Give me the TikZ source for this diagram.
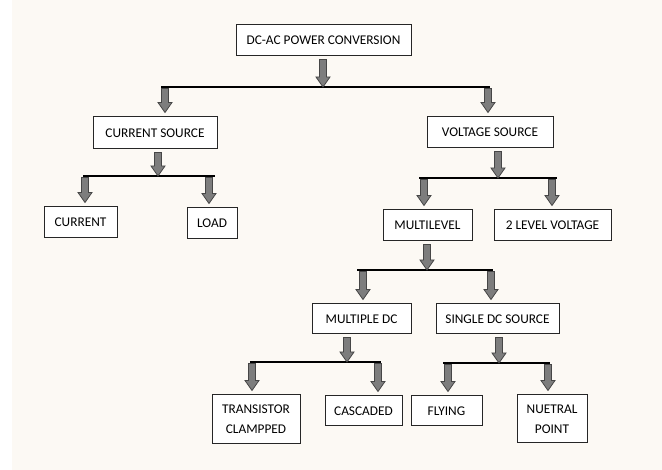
\documentclass[tikz,border=0pt]{standalone}
\usepackage{fontspec}
\setmainfont{Carlito}
\usetikzlibrary{calc}

\definecolor{paper}{RGB}{252,249,244}
\definecolor{arrowfill}{RGB}{125,125,125}
\definecolor{arrowline}{RGB}{70,70,70}

\tikzset{every picture/.style={line width=0.75pt}}
\tikzset{
  box/.style={draw=black!85, fill=white, line width=0.75pt, inner sep=0pt,
    align=center, font=\fontsize{10}{15}\selectfont},
  bar/.style={draw=black, line width=1.5pt},
  % block arrow: #1 gap after the start, #2 gap before the target
  blockarrow/.style 2 args={draw=arrowline, fill=arrowfill, line width=0.6pt,
    to path={($(\tikztostart)+(-3.5,#1)$) -- ($(\tikztotarget)+(-3.5,-10-#2)$)
      -- ($(\tikztotarget)+(-7,-10-#2)$) -- ($(\tikztotarget)+(0,-#2)$)
      -- ($(\tikztotarget)+(7,-10-#2)$) -- ($(\tikztotarget)+(3.5,-10-#2)$)
      -- ($(\tikztostart)+(3.5,#1)$) -- cycle}}
}

\begin{document}
\begin{tikzpicture}[x=0.75pt,y=0.75pt,yscale=-1,xscale=1]
\useasboundingbox (0,0) rectangle (662,470);
\fill[paper] (12,0) rectangle (662,470);

%Shape: Rectangle (boxes)
\node[box, minimum width=131.25pt, minimum height=23.25pt] (conv) at (323.5,40.5) {DC-AC POWER CONVERSION};
\node[box, minimum width=93pt, minimum height=24pt] (csrc) at (155,133) {CURRENT SOURCE};
\node[box, minimum width=94.5pt, minimum height=23.25pt] (vsrc) at (490,132.5) {VOLTAGE SOURCE};
\node[box, minimum width=54.75pt, minimum height=23.25pt] (curr) at (80.5,222.5) {CURRENT};
\node[box, minimum width=37.5pt, minimum height=23.25pt] (load) at (212,223.5) {LOAD};
\node[box, minimum width=66.75pt, minimum height=23.25pt] (mlvl) at (427.5,225.5) {MULTILEVEL};
\node[box, minimum width=87.75pt, minimum height=23.25pt] (twolvl) at (552.5,225.5) {2 LEVEL VOLTAGE};
\node[box, minimum width=74.25pt, minimum height=22.5pt] (mdc) at (361.5,319) {MULTIPLE DC};
\node[box, minimum width=92.25pt, minimum height=22.5pt] (sdc) at (497.5,319) {SINGLE DC SOURCE};
\node[box, minimum width=66pt, minimum height=36.75pt] (tclamp) at (256,419.5) {TRANSISTOR\\CLAMPPED};
\node[box, minimum width=57.75pt, minimum height=22.5pt] (casc) at (363.5,411) {CASCADED};
\node[box, minimum width=53.25pt, minimum height=22.5pt] (flying) at (446.5,411) {FLYING};
\node[box, minimum width=52.5pt, minimum height=36pt] (npoint) at (552,419) {NUETRAL\\POINT};

%Straight Lines (bars)
\coordinate (b1l) at (161,87);  \coordinate (b1r) at (490,87);
\coordinate (b2l) at (83,176);  \coordinate (b2r) at (215,176);
\coordinate (b3l) at (419,178); \coordinate (b3r) at (557,178);
\coordinate (b4l) at (357,270); \coordinate (b4r) at (493,270);
\coordinate (b5l) at (250,362); \coordinate (b5r) at (381,362);
\coordinate (b6l) at (443,363); \coordinate (b6r) at (550,363);
\draw[bar] (b1l) -- (b1r);
\draw[bar] (b2l) -- (b2r);
\draw[bar] (b3l) -- (b3r);
\draw[bar] (b4l) -- (b4r);
\draw[bar] (b5l) -- (b5r);
\draw[bar] (b6l) -- (b6r);

%Block arrows into the bars
\coordinate (j1) at (323,87);
\coordinate (j2) at (158,176);
\coordinate (j3) at (498,178);
\coordinate (j4) at (427,270);
\coordinate (j5) at (347,362);
\coordinate (j6) at (499,363);
\draw[blockarrow={3}{0}] (conv.south -| j1) to (j1);
\draw[blockarrow={3}{0}] (csrc.south -| j2) to (j2);
\draw[blockarrow={3}{0}] (vsrc.south -| j3) to (j3);
\draw[blockarrow={3}{0}] (mlvl.south -| j4) to (j4);
\draw[blockarrow={3}{0}] (mdc.south -| j5) to (j5);
\draw[blockarrow={3}{0}] (sdc.south -| j6) to (j6);

%Block arrows out of the bars
\coordinate (d1) at (165,87);  \coordinate (d2) at (488,87);
\coordinate (d3) at (85,176);  \coordinate (d4) at (209,176);
\coordinate (d5) at (424,178); \coordinate (d6) at (552,178);
\coordinate (d7) at (363,270); \coordinate (d8) at (491,270);
\coordinate (d9) at (252,362); \coordinate (d10) at (378,362);
\coordinate (d11) at (448,363); \coordinate (d12) at (548,363);
\draw[blockarrow={1.5}{4}] (d1) to (d1 |- csrc.north);
\draw[blockarrow={1.5}{4}] (d2) to (d2 |- vsrc.north);
\draw[blockarrow={1.5}{4}] (d3) to (d3 |- curr.north);
\draw[blockarrow={1.5}{4}] (d4) to (d4 |- load.north);
\draw[blockarrow={1.5}{4}] (d5) to (d5 |- mlvl.north);
\draw[blockarrow={1.5}{4}] (d6) to (d6 |- twolvl.north);
\draw[blockarrow={1.5}{4}] (d7) to (d7 |- mdc.north);
\draw[blockarrow={1.5}{4}] (d8) to (d8 |- sdc.north);
\draw[blockarrow={1.5}{4}] (d9) to (d9 |- tclamp.north);
\draw[blockarrow={1.5}{4}] (d10) to (d10 |- casc.north);
\draw[blockarrow={1.5}{4}] (d11) to (d11 |- flying.north);
\draw[blockarrow={1.5}{4}] (d12) to (d12 |- npoint.north);

\end{tikzpicture}
\end{document}
